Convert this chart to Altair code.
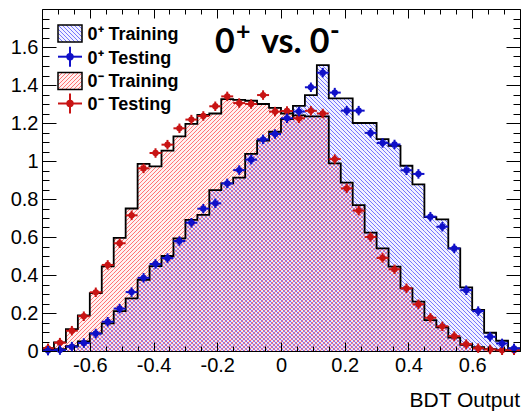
import altair as alt
import pandas as pd

# ---- binning of the BDT output: 40 equal bins on [-0.75, 0.75] ----
X_MIN, X_MAX = -0.75, 0.75
N_BINS = 40
BIN_W = (X_MAX - X_MIN) / N_BINS
edges = [X_MIN + i * BIN_W for i in range(N_BINS + 1)]
centers = [X_MIN + (i + 0.5) * BIN_W for i in range(N_BINS)]

# ---- normalised histogram contents per bin ----
plus_train = [0.010, 0.010, 0.025, 0.050, 0.093, 0.145, 0.210, 0.277, 0.375, 0.447,
              0.500, 0.593, 0.690, 0.716, 0.847, 0.882, 0.913, 1.037, 1.107, 1.154,
              1.220, 1.290, 1.347, 1.505, 1.330, 1.330, 1.200, 1.200, 1.115, 1.080,
              0.975, 0.877, 0.705, 0.693, 0.540, 0.335, 0.216, 0.096, 0.054, 0.014]

plus_test = [0.002, 0.005, 0.023, 0.042, 0.092, 0.154, 0.223, 0.310, 0.385, 0.458,
             0.489, 0.579, 0.675, 0.749, 0.777, 0.882, 0.952, 1.007, 1.114, 1.142,
             1.225, 1.260, 1.388, 1.465, 1.360, 1.265, 1.265, 1.148, 1.095, 1.087,
             0.951, 0.932, 0.707, 0.654, 0.540, 0.320, 0.210, 0.075, 0.040, 0.014]

minus_train = [0.015, 0.045, 0.115, 0.187, 0.305, 0.445, 0.595, 0.750, 0.985, 0.972,
               1.055, 1.130, 1.195, 1.242, 1.250, 1.326, 1.322, 1.317, 1.300, 1.280,
               1.250, 1.240, 1.235, 1.235, 0.987, 0.886, 0.768, 0.623, 0.540, 0.444,
               0.330, 0.260, 0.163, 0.125, 0.070, 0.032, 0.020, 0.010, 0.005, 0.003]

minus_test = [0.014, 0.044, 0.107, 0.183, 0.309, 0.453, 0.567, 0.714, 0.961, 1.042,
              1.086, 1.172, 1.218, 1.237, 1.288, 1.340, 1.305, 1.300, 1.347, 1.260,
              1.263, 1.225, 1.264, 1.250, 1.010, 0.856, 0.739, 0.600, 0.490, 0.430,
              0.330, 0.246, 0.175, 0.130, 0.078, 0.036, 0.015, 0.008, 0.004, 0.004]

TEST_ERR = 0.025  # statistical error on the testing points

legend_labels = ["0\u207a Training", "0\u207a Testing", "0\u207b Training", "0\u207b Testing"]
x_title = "BDT Output"

# ---- layout ----
W, H = 478, 342
Y_MAX = 1.8
PX_X = W / (X_MAX - X_MIN)
PX_Y = H / Y_MAX
HATCH_STEP = 4.0  # horizontal spacing of hatch lines, px
HATCH_OPACITY = 0.75
TINT_OPACITY = 0.08

BLUE_LINE = "#4a4aff"
RED_LINE = "#ff4a4a"
BLUE_PT = "#1010c8"
RED_PT = "#c81414"


def hatch_box(bx0, by0, bx1, by1, rising, step=HATCH_STEP):
    """45-degree hatch segments clipped to a screen-space box (y downwards)."""
    segs = []
    if rising:  # "/" lines: X + Y = c
        n0 = int((bx0 + by0) // step)
        n1 = int((bx1 + by1) // step) + 1
        for n in range(n0, n1 + 1):
            c = n * step
            xa, xb = max(bx0, c - by1), min(bx1, c - by0)
            if xb - xa > 0.3:
                segs.append((xa, c - xa, xb, c - xb))
    else:  # "\" lines: X - Y = c
        n0 = int((bx0 - by1) // step)
        n1 = int((bx1 - by0) // step) + 1
        for n in range(n0, n1 + 1):
            c = n * step
            xa, xb = max(bx0, c + by0), min(bx1, c + by1)
            if xb - xa > 0.3:
                segs.append((xa, xa - c, xb, xb - c))
    return segs


def hist_hatch(values, rising):
    """Hatch segments filling each histogram bin, returned in data units."""
    rows = []
    for i, v in enumerate(values):
        bx0 = (edges[i] - X_MIN) * PX_X
        bx1 = (edges[i + 1] - X_MIN) * PX_X
        top = H - v * PX_Y
        for xa, ya, xb, yb in hatch_box(bx0, top, bx1, H, rising):
            rows.append({
                "x": X_MIN + xa / PX_X, "y": (H - ya) / PX_Y,
                "x2": X_MIN + xb / PX_X, "y2": (H - yb) / PX_Y,
            })
    return pd.DataFrame(rows)


# ---- tables ----
hist = pd.DataFrame({
    "edge": edges,
    "plus": plus_train + [plus_train[-1]],
    "minus": minus_train + [minus_train[-1]],
})


def test_table(vals):
    return pd.DataFrame({
        "c": centers,
        "lo": [c - BIN_W / 2 for c in centers],
        "hi": [c + BIN_W / 2 for c in centers],
        "v": vals,
        "vlo": [v - TEST_ERR for v in vals],
        "vhi": [v + TEST_ERR for v in vals],
    })


plus_pts = test_table(plus_test)
minus_pts = test_table(minus_test)

xs = alt.Scale(domain=[X_MIN, X_MAX], nice=False, zero=False)
ys = alt.Scale(domain=[0, Y_MAX], nice=False, zero=False)

major_x = [-0.6, -0.4, -0.2, 0.0, 0.2, 0.4, 0.6]
minor_x = [round(X_MIN + 0.05 * i, 2) for i in range(31)]
major_y = [round(0.2 * i, 1) for i in range(9)]
minor_y = [round(0.05 * i, 2) for i in range(36)]

LABEL_EXPR = "toString(round(datum.value * 10) / 10)"


def axis(orient, values, size, labels=False):
    kw = dict(orient=orient, values=values, tickSize=size, offset=-size, domain=False,
              grid=False, title=None, ticks=True, tickColor="black", tickWidth=1, zindex=3)
    if labels:
        kw.update(labels=True, labelExpr=LABEL_EXPR, labelFont="Liberation Sans",
                  labelFontSize=20, labelColor="black", labelPadding=4, labelOverlap=False)
    else:
        kw.update(labels=False)
    return alt.Axis(**kw)


def hatch_layer(df, color, x_axis, y_axis):
    return alt.Chart(df).mark_rule(color=color, strokeWidth=1, opacity=HATCH_OPACITY).encode(
        x=alt.X("x:Q", scale=xs, axis=x_axis), x2="x2:Q",
        y=alt.Y("y:Q", scale=ys, axis=y_axis), y2="y2:Q",
    )


base_h = alt.Chart(hist)

# faint tint under each hatched histogram
red_tint = base_h.mark_area(interpolate="step-after", color=RED_LINE,
                            opacity=TINT_OPACITY).encode(
    x=alt.X("edge:Q", scale=xs, axis=None), y=alt.Y("minus:Q", scale=ys, axis=None))
blue_tint = base_h.mark_area(interpolate="step-after", color=BLUE_LINE,
                             opacity=TINT_OPACITY).encode(
    x=alt.X("edge:Q", scale=xs, axis=None), y=alt.Y("plus:Q", scale=ys, axis=None))

red_hatch = hatch_layer(hist_hatch(minus_train, rising=True), RED_LINE,
                        axis("bottom", major_x, 9, labels=True),
                        axis("left", major_y, 14, labels=True))
blue_hatch = hatch_layer(hist_hatch(plus_train, rising=False), BLUE_LINE,
                         axis("bottom", minor_x, 5), axis("left", minor_y, 7))

red_line = base_h.mark_line(interpolate="step-after", color="black", strokeWidth=1.8).encode(
    x=alt.X("edge:Q", scale=xs, axis=axis("top", major_x, 9)),
    y=alt.Y("minus:Q", scale=ys, axis=axis("right", major_y, 14)),
)
blue_line = base_h.mark_line(interpolate="step-after", color="black", strokeWidth=1.8).encode(
    x=alt.X("edge:Q", scale=xs, axis=axis("top", minor_x, 5)),
    y=alt.Y("plus:Q", scale=ys, axis=axis("right", minor_y, 7)),
)


def test_layers(df, color):
    b = alt.Chart(df)
    hbar = b.mark_rule(color=color, strokeWidth=2).encode(
        x=alt.X("lo:Q", scale=xs, axis=None), x2="hi:Q",
        y=alt.Y("v:Q", scale=ys, axis=None))
    vbar = b.mark_rule(color=color, strokeWidth=2).encode(
        x=alt.X("c:Q", scale=xs, axis=None),
        y=alt.Y("vlo:Q", scale=ys, axis=None), y2="vhi:Q")
    dot = b.mark_circle(color=color, size=40, opacity=1).encode(
        x=alt.X("c:Q", scale=xs, axis=None),
        y=alt.Y("v:Q", scale=ys, axis=None))
    return [hbar, vbar, dot]


# ---- legend, title and axis caption ----
one = alt.Chart(pd.DataFrame({"k": [0]}))
BOX_X, BOX_W, BOX_H = 16, 24, 17


def legend_box(top, color, rising):
    segs = hatch_box(BOX_X, top, BOX_X + BOX_W, top + BOX_H, rising)
    df = pd.DataFrame(segs, columns=["x", "y", "x2", "y2"])
    tint = one.mark_rect(color=color, opacity=TINT_OPACITY).encode(
        x=alt.value(BOX_X), x2=alt.value(BOX_X + BOX_W), y=alt.value(top),
        y2=alt.value(top + BOX_H))
    lines = alt.Chart(df).mark_rule(color=color, strokeWidth=1,
                                    opacity=HATCH_OPACITY).encode(
        x=alt.X("x:Q", scale=None), x2="x2:Q", y=alt.Y("y:Q", scale=None), y2="y2:Q")
    frame = one.mark_rect(fillOpacity=0, stroke="black", strokeWidth=1.5).encode(
        x=alt.value(BOX_X), x2=alt.value(BOX_X + BOX_W), y=alt.value(top),
        y2=alt.value(top + BOX_H))
    return [tint, lines, frame]


legend = legend_box(16, BLUE_LINE, rising=False) + legend_box(63.5, RED_LINE, rising=True)
for cy, col in ((47.7, BLUE_PT), (94.5, RED_PT)):
    legend += [
        one.mark_rule(color=col, strokeWidth=2).encode(
            x=alt.value(16), x2=alt.value(40), y=alt.value(cy)),
        one.mark_rule(color=col, strokeWidth=2).encode(
            x=alt.value(28), y=alt.value(cy - 10), y2=alt.value(cy + 10)),
        one.mark_circle(color=col, size=55, opacity=1).encode(
            x=alt.value(28), y=alt.value(cy)),
    ]
for lbl, by in zip(legend_labels, (30.5, 54.5, 78.3, 101)):
    legend.append(one.mark_text(text=lbl, align="left", baseline="alphabetic",
                                font="Liberation Sans", fontSize=18, fontWeight="bold",
                                color="black").encode(x=alt.value(45.5), y=alt.value(by)))

# headline "0+ vs. 0-" with raised signs
TITLE_FONT = dict(align="left", baseline="alphabetic", font="Lato", fontWeight="bold",
                  color="black")
title = [
    one.mark_text(text="0", fontSize=34, **TITLE_FONT).encode(x=alt.value(173), y=alt.value(44)),
    one.mark_text(text="+", fontSize=25, **TITLE_FONT).encode(x=alt.value(194), y=alt.value(31)),
    one.mark_text(text="vs. 0", fontSize=34, **TITLE_FONT).encode(x=alt.value(219), y=alt.value(44)),
    one.mark_text(text="-", fontSize=26, **TITLE_FONT).encode(x=alt.value(288), y=alt.value(31)),
]
caption = one.mark_text(text=x_title, align="right", baseline="alphabetic",
                        font="Liberation Sans", fontSize=21, color="black").encode(
    x=alt.value(W), y=alt.value(397.5))

layers = [red_tint, blue_tint, red_hatch, blue_hatch, red_line, blue_line]
layers += test_layers(minus_pts, RED_PT) + test_layers(plus_pts, BLUE_PT)
layers += legend + title + [caption]

chart = alt.layer(*layers).resolve_axis(x="independent", y="independent").properties(
    width=W, height=H,
    padding={"left": 42, "top": 9, "right": 3, "bottom": 63},
    autosize=alt.AutoSizeParams(type="none"),
    background="white",
).configure_view(stroke="black", strokeWidth=1)

chart.save("out.html", embed_options={"renderer": "svg", "actions": False})
